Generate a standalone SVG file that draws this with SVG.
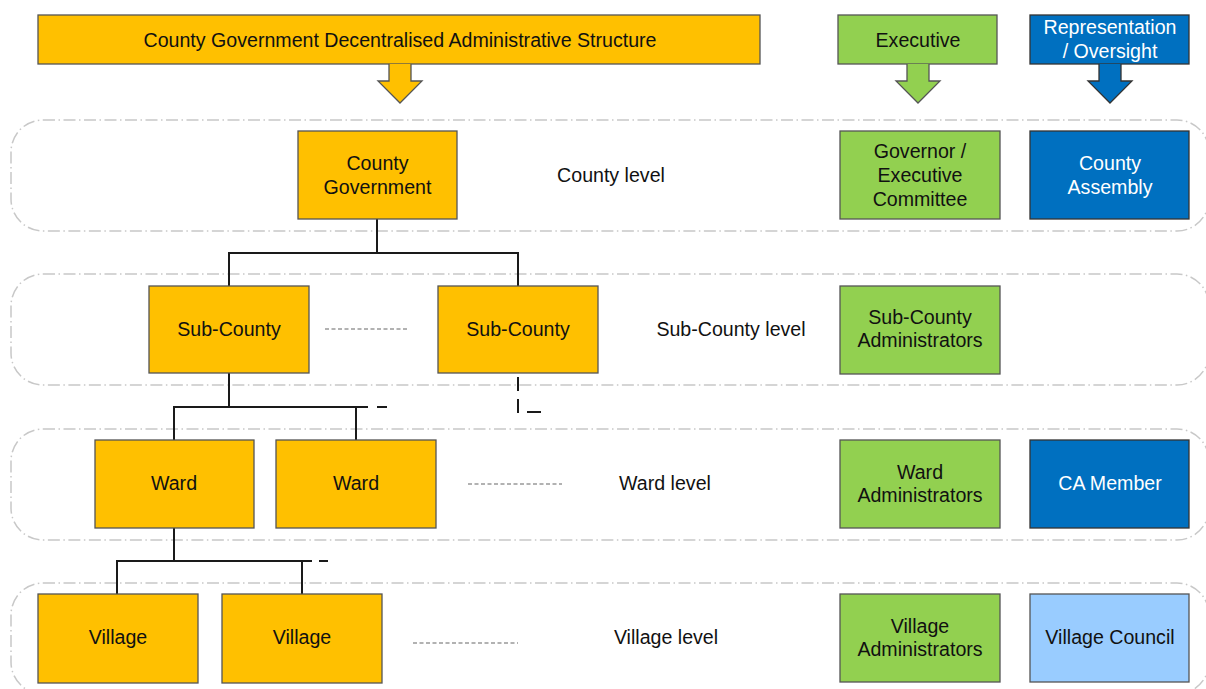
<svg xmlns="http://www.w3.org/2000/svg" width="1206" height="689" viewBox="0 0 1206 689">
<style>
text{font-family:"Liberation Sans",Arial,sans-serif;font-size:19.6px;fill:#111;text-anchor:middle}
.w{fill:#fff}
.or{fill:#ffc000;stroke:#555;stroke-width:1.3}
.gr{fill:#92d050;stroke:#555;stroke-width:1.3}
.bl{fill:#0070c0;stroke:#333;stroke-width:1.3}
.lb{fill:#99ccff;stroke:#555;stroke-width:1.3}
.band{fill:none;stroke:#c8c8c8;stroke-width:1.5;stroke-dasharray:12 3.5 1.5 3.5}
.con{fill:none;stroke:#1a1a1a;stroke-width:2}
.gd{fill:none;stroke:#999;stroke-width:1.3;stroke-dasharray:4 2.5}
</style>
<rect width="1206" height="689" fill="#fff"/>
<g id="bands">
<rect class="band" x="11" y="120" width="1198" height="111" rx="32"/>
<rect class="band" x="11" y="274" width="1198" height="111" rx="32"/>
<rect class="band" x="11" y="429" width="1198" height="111" rx="32"/>
<rect class="band" x="11" y="583" width="1198" height="111" rx="32"/>
</g>
<g id="header-structure">
<rect class="or" x="38" y="15" width="722" height="49"/>
<path class="or" d="M389,64 V81 H378 L400,103 L422,81 H411 V64"/>
<text x="400" y="47">County Government Decentralised Administrative Structure</text>
</g>
<g id="header-executive">
<rect class="gr" x="838" y="15" width="159" height="49"/>
<path class="gr" d="M907,64 V81 H896 L918,103 L940,81 H929 V64"/>
<text x="918" y="47">Executive</text>
</g>
<g id="header-representation">
<rect class="bl" x="1030" y="15" width="159" height="49"/>
<path class="bl" d="M1099,64 V81 H1088 L1110,103 L1132,81 H1121 V64"/>
<text class="w" x="1110" y="34">Representation</text>
<text class="w" x="1110" y="58">/ Oversight</text>
</g>
<g id="connectors">
<path class="con" d="M377,219 V253 M229,286 V253 H518 V286"/>
<path class="con" d="M229,373 V407 M174,440 V407 H368 M377,407 H387 M356,407 V440"/>
<path class="con" d="M518,377 V391 M518,399 V413 M527,412 H541"/>
<path class="con" d="M174,528 V561 M117,594 V561 H312 M319,561 H328 M302,561 V594"/>
<path class="gd" d="M325,329 H408"/>
<path class="gd" d="M468,484 H562"/>
<path class="gd" d="M413,643 H518"/>
</g>
<g id="county-government">
<rect class="or" x="298" y="131" width="159" height="88"/>
<text x="377.5" y="170">County</text>
<text x="377.5" y="194">Government</text>
</g>
<g id="county-level"><text x="611" y="182">County level</text></g>
<g id="governor">
<rect class="gr" x="840" y="131" width="160" height="88"/>
<text x="920" y="158">Governor /</text>
<text x="920" y="182">Executive</text>
<text x="920" y="206">Committee</text>
</g>
<g id="county-assembly">
<rect class="bl" x="1030" y="131" width="159" height="88"/>
<text class="w" x="1110" y="170">County</text>
<text class="w" x="1110" y="194">Assembly</text>
</g>
<g id="sub-county-1">
<rect class="or" x="149" y="286" width="160" height="87"/>
<text x="229" y="336">Sub-County</text>
</g>
<g id="sub-county-2">
<rect class="or" x="438" y="286" width="160" height="87"/>
<text x="518" y="336">Sub-County</text>
</g>
<g id="sub-county-level"><text x="731" y="336">Sub-County level</text></g>
<g id="sub-county-admin">
<rect class="gr" x="840" y="286" width="160" height="88"/>
<text x="920" y="324">Sub-County</text>
<text x="920" y="347">Administrators</text>
</g>
<g id="ward-1">
<rect class="or" x="95" y="440" width="159" height="88"/>
<text x="174" y="490">Ward</text>
</g>
<g id="ward-2">
<rect class="or" x="276" y="440" width="160" height="88"/>
<text x="356" y="490">Ward</text>
</g>
<g id="ward-level"><text x="665" y="490">Ward level</text></g>
<g id="ward-admin">
<rect class="gr" x="840" y="440" width="160" height="88"/>
<text x="920" y="479">Ward</text>
<text x="920" y="502">Administrators</text>
</g>
<g id="ca-member">
<rect class="bl" x="1030" y="440" width="159" height="88"/>
<text class="w" x="1110" y="490">CA Member</text>
</g>
<g id="village-1">
<rect class="or" x="38" y="594" width="160" height="89"/>
<text x="118" y="644">Village</text>
</g>
<g id="village-2">
<rect class="or" x="222" y="594" width="160" height="89"/>
<text x="302" y="644">Village</text>
</g>
<g id="village-level"><text x="666" y="644">Village level</text></g>
<g id="village-admin">
<rect class="gr" x="840" y="594" width="160" height="88"/>
<text x="920" y="633">Village</text>
<text x="920" y="656">Administrators</text>
</g>
<g id="village-council">
<rect class="lb" x="1030" y="594" width="159" height="88"/>
<text x="1110" y="644">Village Council</text>
</g>
</svg>
